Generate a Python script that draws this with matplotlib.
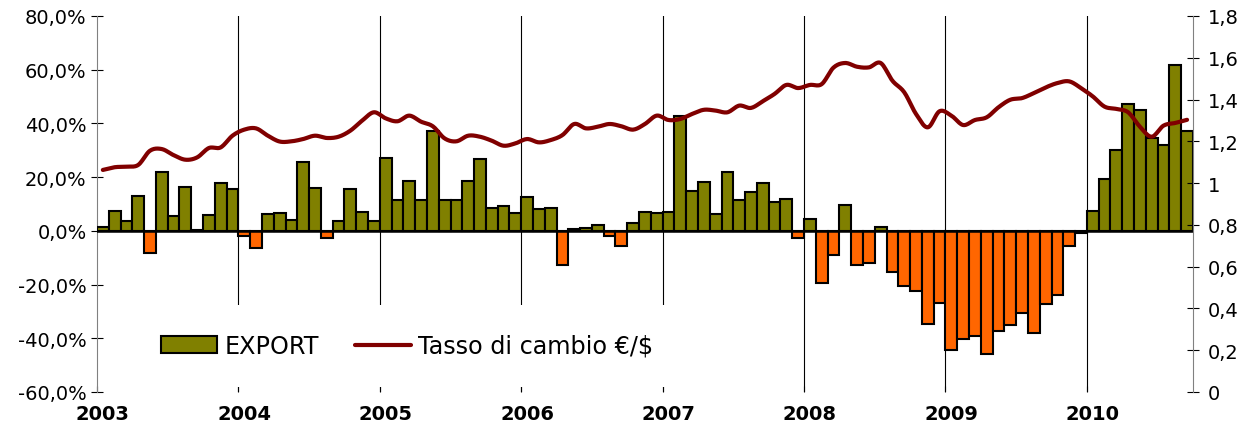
import numpy as np
import matplotlib.pyplot as plt
from matplotlib.ticker import FuncFormatter

# Dati mensili gen 2003 - set 2010
anni = ['2003', '2004', '2005', '2006', '2007', '2008', '2009', '2010']

export = [1.5, 7.3, 3.8, 13.0, -8.2, 21.8, 5.7, 16.4, 0.2, 6.0, 17.9, 15.5,
          -2.1, -6.2, 6.1, 6.7, 4.2, 25.6, 15.9, -2.5, 3.5, 15.4, 7.0, 3.8,
          27.2, 11.3, 18.7, 11.5, 37.0, 11.4, 11.3, 18.7, 26.9, 8.6, 9.3, 6.8,
          12.5, 8.2, 8.4, -12.7, 0.7, 1.2, 2.2, -2.0, -5.7, 2.9, 7.2, 6.8,
          7.0, 42.7, 14.8, 18.1, 6.1, 21.8, 11.5, 14.4, 17.7, 10.9, 11.9, -2.5,
          4.5, -19.4, -8.9, 9.6, -12.9, -11.9, 1.5, -15.4, -20.6, -22.5, -34.6, -26.8,
          -44.2, -40.4, -39.0, -45.8, -37.4, -34.9, -30.7, -38.0, -27.2, -23.7, -5.5, -0.9,
          7.4, 19.4, 30.2, 47.2, 45.1, 34.5, 32.1, 61.6, 37.0]

cambio = [1.063, 1.076, 1.079, 1.087, 1.155, 1.163, 1.134, 1.112, 1.123, 1.168, 1.171, 1.227,
          1.256, 1.262, 1.227, 1.199, 1.200, 1.211, 1.227, 1.216, 1.222, 1.251, 1.299, 1.339,
          1.310, 1.296, 1.323, 1.294, 1.272, 1.214, 1.200, 1.227, 1.222, 1.203, 1.179, 1.190,
          1.211, 1.195, 1.206, 1.230, 1.283, 1.262, 1.270, 1.283, 1.272, 1.256, 1.283, 1.323,
          1.302, 1.307, 1.331, 1.351, 1.347, 1.339, 1.371, 1.360, 1.392, 1.427, 1.470, 1.455,
          1.470, 1.474, 1.553, 1.575, 1.557, 1.554, 1.575, 1.490, 1.435, 1.331, 1.267, 1.344,
          1.323, 1.278, 1.302, 1.315, 1.363, 1.399, 1.407, 1.431, 1.458, 1.479, 1.487, 1.455,
          1.415, 1.366, 1.355, 1.339, 1.270, 1.222, 1.275, 1.288, 1.303]


def smooth(x, y, n=12):
    # curva smussata tipo Excel (Catmull-Rom)
    x = np.asarray(x, float)
    y = np.asarray(y, float)
    px = np.concatenate([[2 * x[0] - x[1]], x, [2 * x[-1] - x[-2]]])
    py = np.concatenate([[2 * y[0] - y[1]], y, [2 * y[-1] - y[-2]]])
    t = np.linspace(0, 1, n, endpoint=False)
    xs, ys = [], []
    for i in range(1, len(px) - 2):
        for p, out in ((px, xs), (py, ys)):
            p0, p1, p2, p3 = p[i - 1], p[i], p[i + 1], p[i + 2]
            out.extend(0.5 * (2 * p1 + (-p0 + p2) * t + (2 * p0 - 5 * p1 + 4 * p2 - p3) * t ** 2
                              + (-p0 + 3 * p1 - 3 * p2 + p3) * t ** 3))
    xs.append(x[-1])
    ys.append(y[-1])
    return np.array(xs), np.array(ys)


plt.rcParams['font.family'] = 'DejaVu Sans'

fig = plt.figure(figsize=(12.51, 4.39), dpi=100)
ax = fig.add_axes([0.0775, 0.1048, 0.8761, 0.8565])

mesi = np.arange(len(export))
colori = ['#808000' if v >= 0 else '#FF6600' for v in export]
ax.bar(mesi, export, width=1.0, color=colori, edgecolor='black', linewidth=1.5,
       zorder=3, label='EXPORT')
ax.axhline(0, color='black', lw=1.8, zorder=4)

ax.set_xlim(-0.5, len(export) - 0.5)
ax.set_ylim(-60, 80)
ax.set_yticks(np.arange(-60, 81, 20))
ax.yaxis.set_major_formatter(FuncFormatter(lambda v, p: f'{v:.1f}%'.replace('.', ',')))

# griglia verticale agli anni
confini = np.arange(1, len(anni)) * 12 - 0.5
for c in confini:
    ax.axvline(c, color='black', lw=0.8, zorder=1)

ax.set_xticks(np.arange(len(anni)) * 12 - 0.5)
ax.set_xticklabels([])
ax.set_xticks(np.arange(len(anni)) * 12, minor=True)
ax.set_xticklabels(anni, minor=True, fontweight='bold', fontsize=14)
ax.tick_params(axis='x', which='major', direction='in', length=4, color='black')
ax.tick_params(axis='x', which='minor', length=0, pad=9)
ax.tick_params(axis='y', direction='inout', length=9, labelsize=14, pad=3)

for s in ['top', 'bottom', 'right']:
    ax.spines[s].set_visible(False)
ax.spines['left'].set_color('#808080')

ax2 = ax.twinx()
xs, ys = smooth(mesi, cambio)
ax2.plot(xs, ys, color='#800000', lw=3, solid_capstyle='round', zorder=5,
         label='Tasso di cambio €/$')
ax2.set_ylim(0, 1.8)
ax2.set_yticks(np.arange(0, 1.81, 0.2))
ax2.yaxis.set_major_formatter(FuncFormatter(lambda v, p: f'{v:g}'.replace('.', ',')))
ax2.tick_params(axis='y', direction='inout', length=9, labelsize=14, pad=6)
for s in ['top', 'bottom', 'left']:
    ax2.spines[s].set_visible(False)
ax2.spines['right'].set_color('#808080')

h1, l1 = ax.get_legend_handles_labels()
h2, l2 = ax2.get_legend_handles_labels()
leg = ax2.legend(h1 + h2, l1 + l2, ncol=2, loc='center left',
                 bbox_to_anchor=(0.106, 0.2096), bbox_transform=fig.transFigure,
                 fontsize=17.2, frameon=True, facecolor='white', edgecolor='none',
                 framealpha=1, fancybox=False, borderpad=1.2, handlelength=2.35,
                 handletextpad=0.3, columnspacing=1.5, borderaxespad=0)
leg.set_zorder(10)

fig.savefig('out.png', dpi=100)
